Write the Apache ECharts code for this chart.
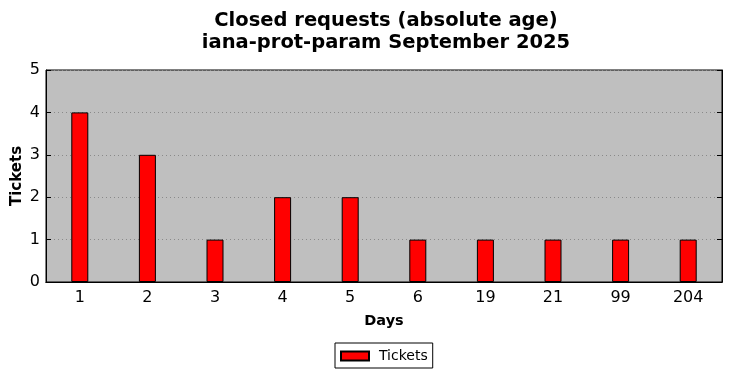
<!DOCTYPE html>
<html>
<head>
<meta charset="utf-8">
<script src="https://cdn.jsdelivr.net/npm/echarts@6/dist/echarts.min.js"></script>
<style>
  html, body { margin: 0; padding: 0; background: #fff; }
  #chart { width: 732px; height: 378px; }
</style>
</head>
<body>
<div id="chart"></div>
<script>
var days = ['1', '2', '3', '4', '5', '6', '19', '21', '99', '204'];
var tickets = [4, 3, 1, 2, 2, 1, 1, 1, 1, 1];

var chart = echarts.init(document.getElementById('chart'));

var font = 'DejaVu Sans';

option = {
    animation: false,
    textStyle: { fontFamily: font },
    title: {
        text: 'Closed requests (absolute age)\niana-prot-param September 2025',
        left: 381,
        top: 5,
        textAlign: 'center',
        textStyle: {
            fontFamily: font,
            fontSize: 19.5,
            fontWeight: 'bold',
            color: '#000',
            lineHeight: 22
        }
    },
    legend: {
        top: 343,
        left: 335,
        data: ['Tickets'],
        icon: 'rect',
        itemWidth: 28,
        itemHeight: 9,
        itemGap: 10,
        padding: [6, 5, 5, 5],
        borderColor: '#000',
        borderWidth: 1,
        borderRadius: 0,
        textStyle: { fontFamily: font, fontSize: 14, color: '#000', padding: [0, 0, 0, 5] }
    },
    grid: {
        left: 46,
        right: 10,
        top: 70,
        bottom: 96,
        outerBoundsMode: 'none',
        containLabel: false,
        show: true,
        backgroundColor: '#bfbfbf',
        borderColor: '#000',
        borderWidth: 1
    },
    xAxis: [
        {
            type: 'category',
            data: days,
            name: 'Days',
            nameLocation: 'middle',
            nameGap: 32,
            nameMoveOverlap: false,
            nameTextStyle: { fontFamily: font, fontSize: 14.5, fontWeight: 'bold', color: '#000' },
            axisLine: { lineStyle: { color: '#000' } },
            axisTick: { inside: true, alignWithLabel: true, length: 5, lineStyle: { color: '#000' } },
            axisLabel: { fontFamily: font, fontSize: 16, color: '#000', margin: 8 }
        },
        {
            type: 'category',
            data: days,
            position: 'top',
            axisLine: { lineStyle: { color: '#000' } },
            axisTick: { inside: true, alignWithLabel: true, length: 5, lineStyle: { color: '#000' } },
            axisLabel: { show: false }
        }
    ],
    yAxis: [
        {
            type: 'value',
            min: 0,
            max: 5,
            interval: 1,
            name: 'Tickets',
            nameLocation: 'middle',
            nameGap: 21,
            nameMoveOverlap: false,
            nameTextStyle: { fontFamily: font, fontSize: 15, fontWeight: 'bold', color: '#000' },
            axisLine: { show: true, lineStyle: { color: '#000' } },
            axisTick: { show: true, inside: true, length: 5, lineStyle: { color: '#000' } },
            axisLabel: { fontFamily: font, fontSize: 16, color: '#000', margin: 6 },
            splitLine: { show: true, lineStyle: { color: '#8a8a8a', type: [1, 3], width: 1 } }
        },
        {
            type: 'value',
            min: 0,
            max: 5,
            interval: 1,
            position: 'right',
            axisLine: { show: true, lineStyle: { color: '#000' } },
            axisTick: { show: true, inside: true, length: 5, lineStyle: { color: '#000' } },
            axisLabel: { show: false },
            splitLine: { show: false }
        }
    ],
    series: [
        {
            name: 'Tickets',
            type: 'bar',
            data: tickets,
            barWidth: 17,
            itemStyle: {
                color: '#ff0000',
                borderColor: '#000',
                borderWidth: 1
            }
        }
    ]
};

chart.setOption(option);
</script>
</body>
</html>
